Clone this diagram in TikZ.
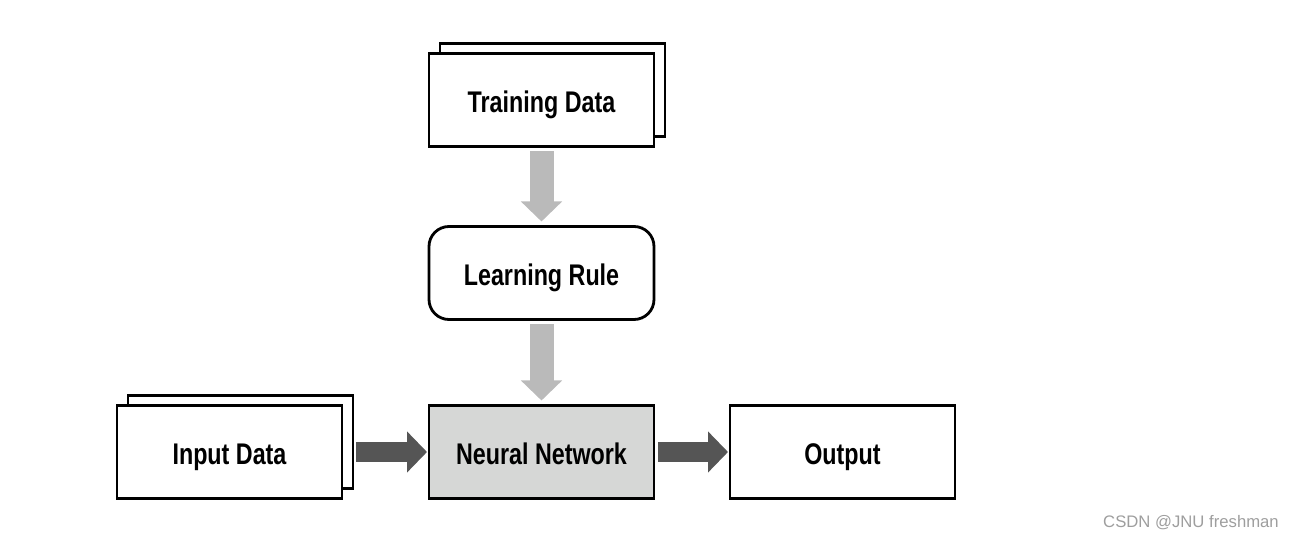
\documentclass[tikz,border=0pt]{standalone}
\usepackage{fontspec}
\setmainfont[FakeStretch=0.78]{Liberation Sans}
\newfontfamily\markfont{Liberation Sans}
\usepackage{tikz}
\usetikzlibrary{positioning}
\usetikzlibrary{shadows}
\usetikzlibrary{arrows.meta}
\definecolor{netgray}{HTML}{D6D7D6}
\definecolor{lightarrow}{HTML}{BABABA}
\definecolor{darkarrow}{HTML}{555555}
\tikzset{
  Kasten/.style={draw, line width=1.6pt, fill=white, outer sep=0pt,
    minimum width=4.5cm, minimum height=1.86cm,
    text height=14.5pt, text depth=0pt,
    font=\bfseries\fontsize{17}{20}\selectfont}, % Grundform der Boxen
  Stapel/.style={Kasten, copy shadow={shadow xshift=.22cm, shadow yshift=.2cm}},
  Regel/.style={Kasten, rounded corners=.4cm},
  HPfeil/.style={lightarrow, line width=.48cm, shorten <=.1cm, shorten >=.1cm,
    -{Triangle[width=.8cm, length=.4cm]}}, % helle Pfeile
  DPfeil/.style={darkarrow, line width=.4cm,
    -{Triangle[width=.8cm, length=.4cm]}} % dunkle Pfeile
}
\begin{document}
\begin{tikzpicture}
\useasboundingbox (0,0) rectangle (25.86,-10.78);

%Boxen
\node[Stapel] (train) at (10.83,-2.0) {Training Data};
\node[Regel, below=1.6cm of train] (rule) {Learning Rule};
\node[Kasten, fill=netgray, below=1.72cm of rule] (net) {Neural Network};
\node[Stapel, left=1.74cm of net] (input) {Input Data};
\node[Kasten, right=1.52cm of net] (output) {Output};

%Pfeile
\draw[HPfeil] (train) -- (rule);
\draw[HPfeil] (rule) -- (net);
\draw[DPfeil] ([xshift=.28cm]input.east) -- ([xshift=-.04cm]net.west);
\draw[DPfeil] ([xshift=.08cm]net.east) -- ([xshift=-.04cm]output.west);

%Wasserzeichen
\node[text=black!38, font=\markfont\fontsize{9.5}{11}\selectfont, anchor=east] (mark) at (25.70,-10.46) {CSDN @JNU freshman};

\end{tikzpicture}
\end{document}
